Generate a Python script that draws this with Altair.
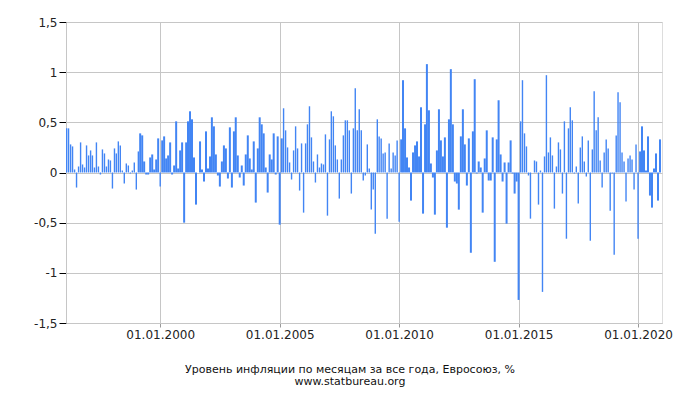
import altair as alt
import pandas as pd

# Monthly inflation, %, Feb 1996 .. Dec 2020 (one list per year)
v1996 = [0.44, 0.44, 0.28, 0.26, 0.03, -0.15, 0.06, 0.30, 0.08, 0.05, 0.27]
v1997 = [0.17, 0.22, 0.17, 0.05, 0.30, 0.06, -0.02, 0.23, 0.19, 0.06, 0.13, 0.12]
v1998 = [-0.16, 0.24, 0.19, 0.31, 0.27, 0.02, -0.11, 0.09, 0.07, -0.01, 0.02, 0.10]
v1999 = [-0.17, 0.21, 0.39, 0.37, 0.11, -0.02, -0.02, 0.15, 0.18, 0.03, 0.13, 0.34]
v2000 = [-0.14, 0.32, 0.36, 0.14, 0.17, 0.30, -0.02, 0.07, 0.51, 0.04, 0.22, 0.30]
v2001 = [-0.50, 0.30, 0.51, 0.61, 0.53, 0.15, -0.32, 0.00, 0.31, 0.03, -0.09, 0.41]
v2002 = [0.04, 0.16, 0.55, 0.46, 0.18, -0.03, -0.14, 0.11, 0.27, 0.24, -0.06, 0.45]
v2003 = [-0.15, 0.41, 0.55, 0.17, -0.05, 0.07, -0.13, 0.18, 0.37, 0.14, 0.03, 0.31]
v2004 = [-0.30, 0.24, 0.55, 0.48, 0.39, 0.05, -0.20, 0.18, 0.13, 0.39, -0.02, 0.36]
v2005 = [-0.52, 0.34, 0.64, 0.42, 0.25, 0.10, -0.07, 0.22, 0.46, 0.24, -0.18, 0.29]
v2006 = [-0.40, 0.29, 0.48, 0.66, 0.35, 0.11, -0.10, 0.18, 0.05, 0.09, 0.08, 0.38]
v2007 = [-0.43, 0.33, 0.61, 0.56, 0.27, 0.13, -0.26, 0.13, 0.37, 0.52, 0.52, 0.42]
v2008 = [-0.21, 0.44, 0.84, 0.42, 0.63, 0.42, -0.08, -0.03, 0.28, 0.04, -0.37, -0.17]
v2009 = [-0.61, 0.53, 0.36, 0.34, 0.19, 0.20, -0.46, 0.29, 0.04, 0.20, 0.17, 0.32]
v2010 = [-0.49, 0.33, 0.92, 0.44, 0.15, 0.05, -0.28, 0.20, 0.27, 0.31, 0.16, 0.65]
v2011 = [-0.41, 0.48, 1.08, 0.62, 0.09, -0.05, -0.42, 0.22, 0.63, 0.32, 0.16, 0.35]
v2012 = [-0.55, 0.53, 1.03, 0.48, -0.09, -0.11, -0.37, 0.36, 0.63, 0.28, -0.13, 0.34]
v2013 = [-0.80, 0.41, 0.93, -0.01, 0.11, 0.05, -0.40, 0.14, 0.42, -0.08, -0.08, 0.35]
v2014 = [-0.89, 0.33, 0.72, 0.18, -0.09, 0.10, -0.51, 0.10, 0.32, -0.01, -0.21, -0.09]
v2015 = [-1.27, 0.51, 0.92, 0.39, 0.26, -0.03, -0.46, 0.00, 0.12, 0.11, -0.32, 0.02]
v2016 = [-1.19, 0.16, 0.97, 0.20, 0.35, 0.17, -0.36, 0.06, 0.30, 0.23, -0.21, 0.51]
v2017 = [-0.66, 0.44, 0.65, 0.52, -0.01, 0.06, -0.31, 0.25, 0.36, 0.11, -0.04, 0.32]
v2018 = [-0.68, 0.23, 0.81, 0.42, 0.55, 0.12, -0.15, 0.20, 0.33, 0.24, -0.38, -0.01]
v2019 = [-0.82, 0.37, 0.80, 0.70, 0.20, 0.11, -0.29, 0.14, 0.17, 0.13, -0.17, 0.28]
v2020 = [-0.66, 0.21, 0.46, 0.22, 0.02, 0.36, -0.23, -0.35, 0.04, 0.19, -0.28, 0.33]

years = list(range(1996, 2021))
by_year = [v1996, v1997, v1998, v1999, v2000, v2001, v2002, v2003, v2004,
           v2005, v2006, v2007, v2008, v2009, v2010, v2011, v2012, v2013,
           v2014, v2015, v2016, v2017, v2018, v2019, v2020]

tick_years = [2000, 2005, 2010, 2015, 2020]
y_ticks = [-1.5, -1, -0.5, 0, 0.5, 1, 1.5]

title_lines = ["Уровень инфляции по месяцам за все года, Евросоюз, %",
               "www.statbureau.org"]

rows = []
for yr, vals in zip(years, by_year):
    first_month = 13 - len(vals)
    for k, v in enumerate(vals):
        rows.append({"date": f"{yr}-{first_month + k:02d}-01T00:00:00", "value": v})
df = pd.DataFrame(rows)

FONT = "DejaVu Sans"
GRID = "#c6c6c6"

wide_expr = (
    "(datum.ym >= 1999*12+2 && datum.ym <= 2005*12+1 && datum.ym != 2000*12) || "
    "(datum.ym >= 2010*12+1 && datum.ym <= 2015*12) || "
    "(datum.ym >= 2020*12+1)"
)

chart = (
    alt.Chart(df)
    .transform_calculate(ym="year(toDate(datum.date))*12 + month(toDate(datum.date))")
    .transform_calculate(wide=wide_expr)
    .mark_bar(color="#4285F4", clip=True)
    .encode(
        x=alt.X(
            "date:T",
            scale=alt.Scale(domain=[alt.DateTime(year=1996, month=1, date=22),
                                    alt.DateTime(year=2021, month=1, date=1)],
                            padding=0),
            axis=alt.Axis(
                values=[alt.DateTime(year=y, month=1, date=1) for y in tick_years],
                format="%d.%m.%Y",
                title=None,
                grid=True,
                gridColor=GRID,
                tickColor="#999999",
                tickSize=4,
                labelPadding=2,
                labelFont=FONT,
                labelFontSize=12,
                labelColor="#222222",
                domainColor=GRID,
            ),
        ),
        y=alt.Y(
            "value:Q",
            scale=alt.Scale(domain=[-1.5, 1.5], nice=False, zero=True),
            axis=alt.Axis(
                values=y_ticks,
                labelExpr="replace(replace(format(datum.value, '.1~f'), '.', ','), '\u2212', '-')",
                title=None,
                grid=True,
                gridColor=GRID,
                tickColor="#000000",
                tickSize=7,
                labelPadding=2,
                labelFont=FONT,
                labelFontSize=12,
                labelColor="#222222",
                domainColor=GRID,
            ),
        ),
        size=alt.condition("datum.wide", alt.value(2), alt.value(1.4)),
    )
    .properties(
        width=596,
        height=301,
        autosize=alt.AutoSizeParams(type="none"),
        padding={"left": 66, "top": 22, "right": 38, "bottom": 77},
        title=alt.TitleParams(
            text=title_lines,
            orient="bottom",
            anchor="middle",
            font=FONT,
            fontSize=11,
            fontWeight="normal",
            lineHeight=12,
            color="#111111",
            offset=24,
            dx=-14,
        ),
    )
    .configure_view(stroke="#aaaaaa")
    .configure(background="white")
)

chart.save("out.html", embed_options={"renderer": "svg", "actions": False})
